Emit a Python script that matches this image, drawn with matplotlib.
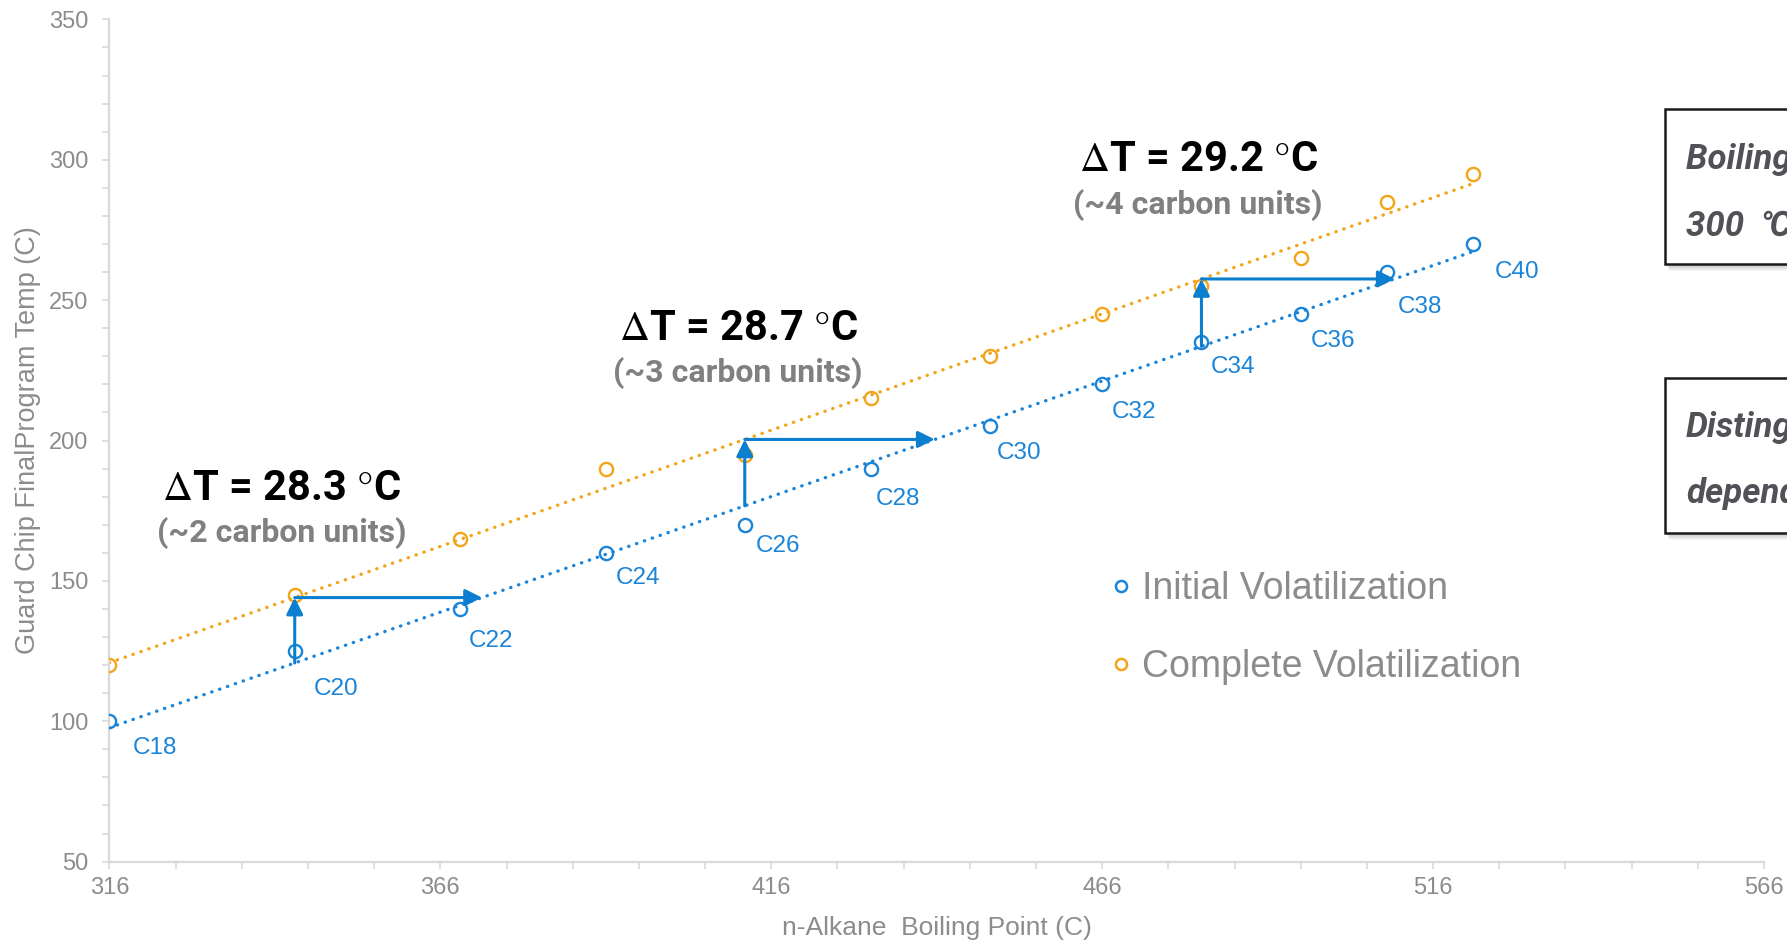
import numpy as np
import matplotlib.pyplot as plt
from matplotlib.patches import Rectangle
from matplotlib.lines import Line2D

# n-alkane boiling points and guard chip temperatures
carbons = ["C18", "C20", "C22", "C24", "C26", "C28", "C30", "C32", "C34", "C36", "C38", "C40"]
boiling_pt = [316, 344, 369, 391, 412, 431, 449, 466, 481, 496, 509, 522]
initial_vol = [100, 125, 140, 160, 170, 190, 205, 220, 235, 245, 260, 270]
complete_vol = [120, 145, 165, 190, 195, 215, 230, 245, 255, 265, 285, 295]

# temperature gap annotations
delta_x = [344, 412, 481]
delta_t = [28.3, 28.7, 29.2]
delta_units = ["(~2 carbon units)", "(~3 carbon units)", "(~4 carbon units)"]

# label offsets (points) for the carbon number tags
label_dx = [17, 14, 6, 7, 8, 4, 5, 7, 7, 7, 8, 16]
label_dy = [-19, -27, -23, -18, -15, -22, -19, -20, -18, -19, -25, -20]

BLUE = "#1a84d8"
ORANGE = "#f2a51a"
ARROW = "#0c7ed0"
GRAY = "#8c8c8c"
AXIS = "#d9d9d9"

plt.rcParams["mathtext.fontset"] = "stix"

W, H = 1787, 941
fig = plt.figure(figsize=(W / 100, H / 100), dpi=100)
ax = fig.add_axes([109.4 / W, 1 - 861.6 / H, (1764 - 109.4) / W, (861.6 - 19.4) / H])

x = np.array(boiling_pt, dtype=float)
y1 = np.array(initial_vol, dtype=float)
y2 = np.array(complete_vol, dtype=float)

fit1 = np.poly1d(np.polyfit(x, y1, 1))
fit2 = np.poly1d(np.polyfit(x, y2, 1))
xs = np.array([x.min(), x.max()])

dots = (0, (0.1, 2.4))
ax.plot(xs, fit2(xs), color=ORANGE, lw=2.4, ls=dots, dash_capstyle="round", zorder=2)
ax.plot(xs, fit1(xs), color=BLUE, lw=2.4, ls=dots, dash_capstyle="round", zorder=2)

ax.plot(x, y2, "o", mfc="none", mec=ORANGE, ms=9.5, mew=1.7, zorder=3)
ax.plot(x, y1, "o", mfc="none", mec=BLUE, ms=9.5, mew=1.7, zorder=3)

for name, xv, yv, dx, dy in zip(carbons, x, y1, label_dx, label_dy):
    ax.annotate(name, (xv, yv), xytext=(dx, dy), textcoords="offset points",
                ha="left", va="center", color=BLUE, fontsize=17.5,
                family="Liberation Sans")

# arrows: initial -> complete, then the equivalent boiling point shift
text_pos = [(342, 183, 167), (411, 240, 224), (480.5, 300, 284)]
for x0, dt, units, (tx, ty1, ty2) in zip(delta_x, delta_t, delta_units, text_pos):
    ybot, ytop = fit1(x0), fit2(x0)
    props = dict(arrowstyle="-|>", color=ARROW, lw=2.2, mutation_scale=25,
                 shrinkA=0, shrinkB=0)
    ax.annotate("", xy=(x0, ytop), xytext=(x0, ybot), arrowprops=props, zorder=4)
    ax.annotate("", xy=(x0 + dt, ytop), xytext=(x0, ytop), arrowprops=props, zorder=4)
    ax.text(tx, ty1, rf"$\Delta$T = {dt} $\degree$C", ha="center", va="center",
            fontsize=30, fontweight="bold", color="black",
            family=["Roboto", "DejaVu Sans"])
    ax.text(tx, ty2, units, ha="center", va="center", fontsize=23,
            fontweight="bold", color="#808080", family=["Roboto", "DejaVu Sans"])

ax.set_xlim(316, 566)
ax.set_ylim(50, 350)
ax.set_xticks(np.arange(316, 567, 50))
ax.set_xticks(np.arange(316, 567, 10), minor=True)
ax.set_yticks(np.arange(50, 351, 50))
ax.set_yticks(np.arange(50, 351, 10), minor=True)

for s in ["top", "right"]:
    ax.spines[s].set_visible(False)
for s in ["left", "bottom"]:
    ax.spines[s].set_color(AXIS)
    ax.spines[s].set_linewidth(1.6)
ax.tick_params(which="both", color=AXIS, width=1.2, length=5)
ax.tick_params(which="major", labelsize=17, labelcolor=GRAY, pad=6)
ax.tick_params(axis="y", which="major", pad=10)
for lab in ax.get_xticklabels() + ax.get_yticklabels():
    lab.set_family("Liberation Sans")

ax.set_xlabel("n-Alkane  Boiling Point (C)", fontsize=19, color=GRAY,
              family="Liberation Sans", labelpad=12)
ax.set_ylabel("Guard Chip FinalProgram Temp (C)", fontsize=19.5, color=GRAY,
              family="Liberation Sans", labelpad=6)

handles = [Line2D([], [], ls="none", marker="o", mfc="none", mec=BLUE, ms=8, mew=1.8),
           Line2D([], [], ls="none", marker="o", mfc="none", mec=ORANGE, ms=8, mew=1.8)]
leg = ax.legend(handles, ["Initial Volatilization", "Complete Volatilization"],
                loc="center left", bbox_to_anchor=(1078 / W, 1 - 628 / H),
                bbox_transform=fig.transFigure, frameon=False,
                handlelength=0.5, handletextpad=0.3, labelspacing=1.1,
                prop={"family": "Liberation Sans", "size": 27})
for t in leg.get_texts():
    t.set_color(GRAY)

# callout boxes on the right edge
def callout(top, bottom, lines, line_y):
    x0 = 1665
    for k in range(1, 8):
        fig.add_artist(Rectangle(((x0 + k * 0.6) / W, (H - bottom - k) / H),
                                 (W - x0 + 20) / W, (bottom - top) / H,
                                 transform=fig.transFigure, facecolor="#000000",
                                 edgecolor="none", alpha=0.035, zorder=5))
    fig.add_artist(Rectangle((x0 / W, (H - bottom) / H), (W - x0 + 20) / W,
                             (bottom - top) / H, transform=fig.transFigure,
                             facecolor="white", edgecolor="#1a1a1a", lw=1.8,
                             zorder=6))
    for txt, yy in zip(lines, line_y):
        fig.text(1686 / W, (H - yy) / H, txt, ha="left", va="center",
                 fontsize=25, fontweight="bold", fontstyle="italic",
                 color="#505257", family=["Roboto", "DejaVu Sans"], zorder=7)

callout(109, 264, ["Boiling point", "300  \u2103"], [160, 226])
callout(378, 533, ["Distinguish", "dependent"], [428, 494])

fig.savefig("out.png", dpi=100)
